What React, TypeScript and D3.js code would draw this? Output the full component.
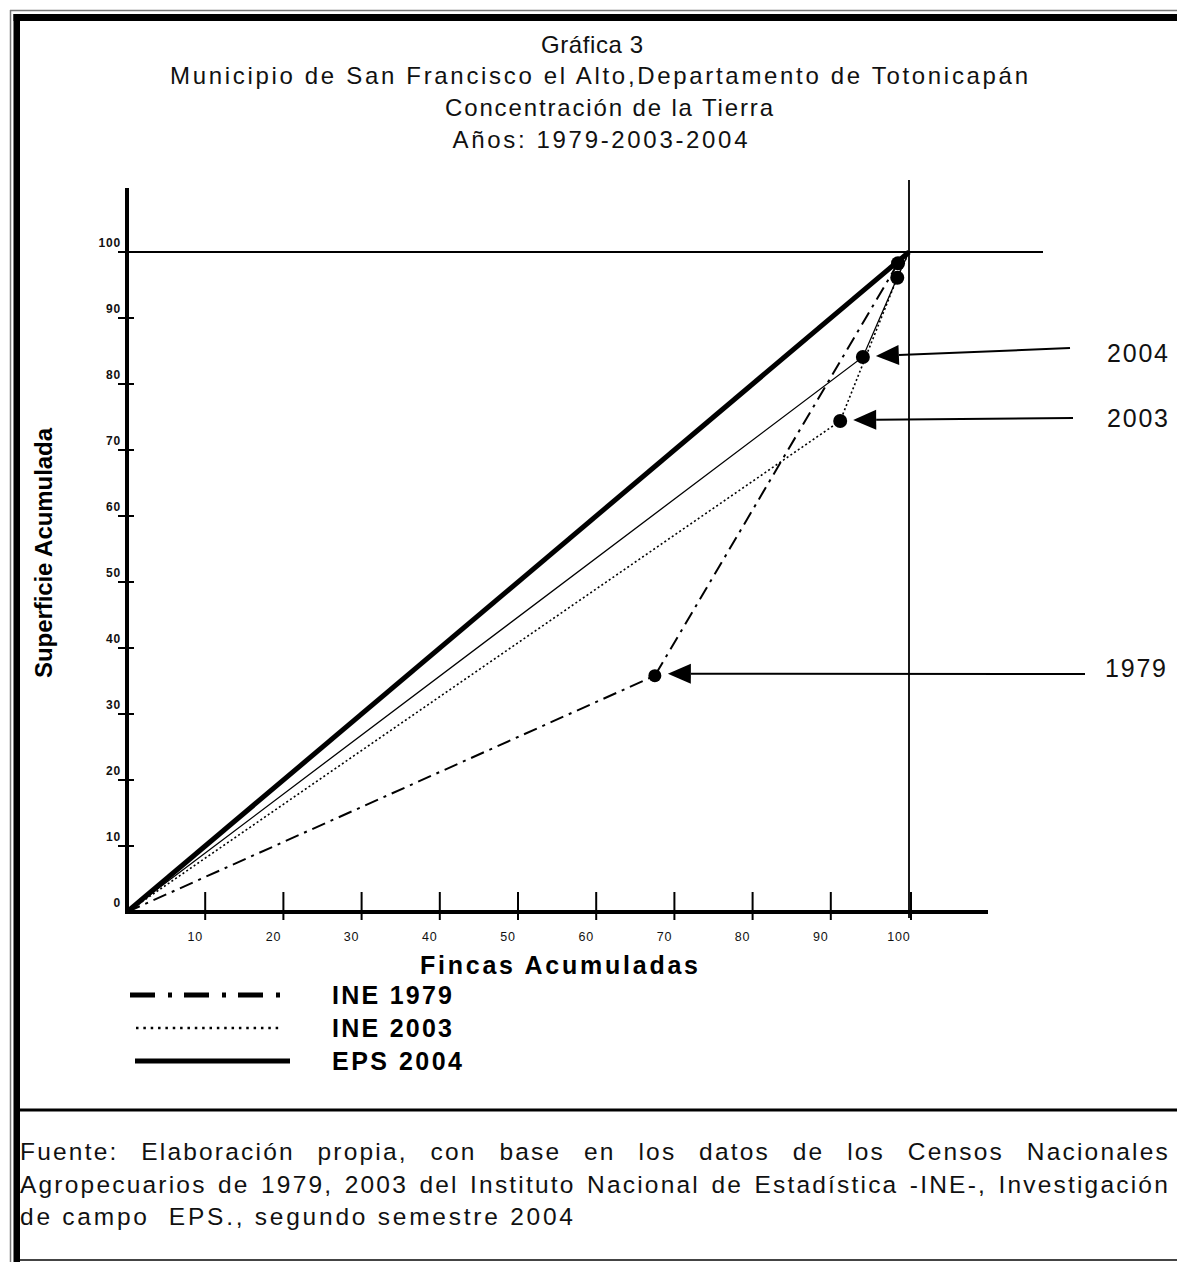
import React, { useEffect, useRef } from "react";
import * as d3 from "d3";

const W = 1177;
const H = 1262;

const titleLines = [
  "Gráfica 3",
  "Municipio de San Francisco el Alto,Departamento de Totonicapán",
  "Concentración de la Tierra",
  "Años: 1979-2003-2004",
];
const yTicks = [0, 10, 20, 30, 40, 50, 60, 70, 80, 90, 100];
const xTicks = [10, 20, 30, 40, 50, 60, 70, 80, 90, 100];

// Lorenz curve points (fincas acumuladas %, superficie acumulada %)
const fincas1979 = [0, 67.5, 98.6, 100];
const superficie1979 = [0, 35.8, 98.3, 100];
const fincas2003 = [0, 91.2, 98.5, 100];
const superficie2003 = [0, 74.4, 96.1, 100];
const fincas2004 = [0, 94.1, 98.5, 100];
const superficie2004 = [0, 84.1, 96.1, 100];
const equidadX = [0, 100];
const equidadY = [0, 100];

const annotations = [
  { label: "2004", x: 94.1, y: 84.1 },
  { label: "2003", x: 91.2, y: 74.4 },
  { label: "1979", x: 67.5, y: 35.8 },
];

const legendItems = ["INE 1979", "INE 2003", "EPS 2004"];

const footerLines = [
  "Fuente:  Elaboración propia, con base en los datos de los Censos Nacionales",
  "Agropecuarios de 1979, 2003 del Instituto Nacional de Estadística -INE-, Investigación",
  "de campo  EPS., segundo semestre 2004",
];

const FONT = "'Liberation Sans', Arial, sans-serif";

export default function App() {
  const ref = useRef<SVGSVGElement>(null);

  useEffect(() => {
    const svg = d3.select(ref.current);
    svg.selectAll("*").remove();

    svg.append("rect").attr("width", W).attr("height", H).attr("fill", "#fff");

    // frame
    svg.append("line").attr("x1", 10.5).attr("x2", 10.5).attr("y1", 10).attr("y2", H).attr("stroke", "#777").attr("stroke-width", 1.5);
    svg.append("line").attr("x1", 10).attr("x2", W).attr("y1", 10.5).attr("y2", 10.5).attr("stroke", "#777").attr("stroke-width", 1.5);
    svg.append("rect").attr("x", 13.5).attr("y", 14).attr("width", 6.5).attr("height", H - 14).attr("fill", "#000");
    svg.append("rect").attr("x", 13.5).attr("y", 14).attr("width", W - 13.5).attr("height", 7).attr("fill", "#000");
    svg.append("line").attr("x1", 20).attr("x2", W).attr("y1", 1260).attr("y2", 1260).attr("stroke", "#444").attr("stroke-width", 2);
    svg.append("line").attr("x1", 20).attr("x2", W).attr("y1", 1110).attr("y2", 1110).attr("stroke", "#000").attr("stroke-width", 3);

    // titles
    const titleSpec = [
      { cx: 592, y: 53, len: 102 },
      { cx: 599, y: 84, len: 858 },
      { cx: 609, y: 116, len: 328 },
      { cx: 600, y: 148, len: 295 },
    ];
    titleLines.forEach((t, i) => {
      svg.append("text")
        .attr("x", titleSpec[i].cx - titleSpec[i].len / 2)
        .attr("y", titleSpec[i].y)
        .attr("textLength", titleSpec[i].len)
        .attr("lengthAdjust", "spacing")
        .attr("font-family", FONT)
        .attr("font-size", 24)
        .attr("fill", "#111")
        .text(t);
    });

    const x = d3.scaleLinear().domain([0, 100]).range([127, 909]);
    const y = d3.scaleLinear().domain([0, 100]).range([912, 252]);

    // reference lines at 100%
    svg.append("line").attr("x1", 118).attr("x2", 1043).attr("y1", y(100)).attr("y2", y(100)).attr("stroke", "#000").attr("stroke-width", 1.8);
    svg.append("line").attr("x1", x(100)).attr("x2", x(100)).attr("y1", 180).attr("y2", 918).attr("stroke", "#000").attr("stroke-width", 1.8);

    // axes
    svg.append("line").attr("x1", x(0)).attr("x2", x(0)).attr("y1", 188).attr("y2", 914).attr("stroke", "#000").attr("stroke-width", 4);
    svg.append("line").attr("x1", x(0) - 2).attr("x2", 988).attr("y1", y(0)).attr("y2", y(0)).attr("stroke", "#000").attr("stroke-width", 4);

    yTicks.forEach((v) => {
      if (v > 0) {
        svg.append("line").attr("x1", x(0) - 9).attr("x2", x(0) + 7).attr("y1", y(v)).attr("y2", y(v)).attr("stroke", "#000").attr("stroke-width", 2);
      }
      svg.append("text")
        .attr("x", 121)
        .attr("y", y(v) - 5)
        .attr("text-anchor", "end")
        .attr("font-family", FONT)
        .attr("font-weight", "bold")
        .attr("font-size", 12)
        .attr("letter-spacing", 0.8)
        .attr("fill", "#111")
        .text(String(v));
    });
    xTicks.forEach((v) => {
      svg.append("line").attr("x1", x(v) + (v === 100 ? 2 : 0)).attr("x2", x(v) + (v === 100 ? 2 : 0)).attr("y1", 892).attr("y2", 920).attr("stroke", "#000").attr("stroke-width", 2);
      svg.append("text")
        .attr("x", x(v) - 10)
        .attr("y", 941)
        .attr("text-anchor", "middle")
        .attr("font-family", FONT)
        .attr("font-size", 12.5)
        .attr("letter-spacing", 0.8)
        .attr("fill", "#111")
        .text(String(v));
    });

    // axis titles
    svg.append("text")
      .attr("transform", `translate(52,553) rotate(-90)`)
      .attr("x", -125)
      .attr("textLength", 250)
      .attr("lengthAdjust", "spacing")
      .attr("font-family", FONT)
      .attr("font-weight", "bold")
      .attr("font-size", 24)
      .attr("fill", "#000")
      .text("Superficie Acumulada");
    svg.append("text")
      .attr("x", 420)
      .attr("y", 974)
      .attr("textLength", 278)
      .attr("lengthAdjust", "spacing")
      .attr("font-family", FONT)
      .attr("font-weight", "bold")
      .attr("font-size", 25)
      .attr("fill", "#000")
      .text("Fincas Acumuladas");

    const line = d3.line<[number, number]>().x((d) => x(d[0])).y((d) => y(d[1]));
    const zip = (a: number[], b: number[]) => a.map((v, i) => [v, b[i]] as [number, number]);

    // equality line
    svg.append("path").attr("d", line(zip(equidadX, equidadY))).attr("fill", "none").attr("stroke", "#000").attr("stroke-width", 5);
    // 2004 thin solid
    svg.append("path").attr("d", line(zip(fincas2004, superficie2004))).attr("fill", "none").attr("stroke", "#000").attr("stroke-width", 1.3);
    // 2003 dotted
    svg.append("path").attr("d", line(zip(fincas2003, superficie2003))).attr("fill", "none").attr("stroke", "#000").attr("stroke-width", 1.6).attr("stroke-dasharray", "2,2.5");
    // 1979 dash-dot
    svg.append("path").attr("d", line(zip(fincas1979, superficie1979))).attr("fill", "none").attr("stroke", "#000").attr("stroke-width", 2).attr("stroke-dasharray", "14,6,3,6");

    // markers
    const dots: [number, number][] = [
      [fincas1979[1], superficie1979[1]],
      [fincas2003[1], superficie2003[1]],
      [fincas2004[1], superficie2004[1]],
      [fincas1979[2], superficie1979[2]],
      [fincas2003[2], superficie2003[2]],
    ];
    dots.forEach((d, i) => {
      svg.append("circle").attr("cx", x(d[0])).attr("cy", y(d[1])).attr("r", i === 0 ? 6.5 : 7).attr("fill", "#000");
    });

    // annotation arrows
    const tails = [
      { tx: 1070, ty: 348, lx: 1107, ly: 362 },
      { tx: 1073, ty: 418, lx: 1107, ly: 427 },
      { tx: 1085, ty: 674, lx: 1105, ly: 677 },
    ];
    annotations.forEach((a, i) => {
      const tipX = x(a.x) + 13;
      const tipY = y(a.y) - (i === 2 ? 2 : 1);
      const t = tails[i];
      const ang = Math.atan2(t.ty - tipY, t.tx - tipX);
      const L = 23, hw = 10;
      const bx = tipX + L * Math.cos(ang), by = tipY + L * Math.sin(ang);
      svg.append("line").attr("x1", bx).attr("y1", by).attr("x2", t.tx).attr("y2", t.ty).attr("stroke", "#000").attr("stroke-width", 2);
      const px = -Math.sin(ang) * hw, py = Math.cos(ang) * hw;
      svg.append("path")
        .attr("d", `M${tipX},${tipY}L${bx + px},${by + py}L${bx - px},${by - py}Z`)
        .attr("fill", "#000");
      svg.append("text")
        .attr("x", t.lx)
        .attr("y", t.ly)
        .attr("textLength", 61)
        .attr("lengthAdjust", "spacing")
        .attr("font-family", FONT)
        .attr("font-size", 25)
        .attr("fill", "#111")
        .text(a.label);
    });

    // legend
    const legY = [995, 1028, 1061];
    svg.append("line").attr("x1", 130).attr("x2", 281).attr("y1", legY[0]).attr("y2", legY[0]).attr("stroke", "#000").attr("stroke-width", 5).attr("stroke-dasharray", "25,13,4,12");
    svg.append("line").attr("x1", 136).attr("x2", 283).attr("y1", legY[1]).attr("y2", legY[1]).attr("stroke", "#000").attr("stroke-width", 2.5).attr("stroke-dasharray", "2.5,4.85");
    svg.append("line").attr("x1", 135).attr("x2", 290).attr("y1", legY[2]).attr("y2", legY[2]).attr("stroke", "#000").attr("stroke-width", 5);
    const legLens = [120, 120, 130];
    legendItems.forEach((t, i) => {
      svg.append("text")
        .attr("x", 332)
        .attr("y", legY[i] + 9)
        .attr("textLength", legLens[i])
        .attr("lengthAdjust", "spacing")
        .attr("font-family", FONT)
        .attr("font-weight", "bold")
        .attr("font-size", 25)
        .attr("fill", "#000")
        .text(t);
    });

    // footer (justified)
    const fy = [1160, 1193, 1225];
    const fs = 24.5;
    const ls = 2.2;
    footerLines.forEach((ln, i) => {
      if (i === footerLines.length - 1) {
        svg.append("text")
          .attr("x", 20).attr("y", fy[i])
          .attr("textLength", 553)
          .attr("lengthAdjust", "spacing")
          .attr("font-family", FONT).attr("font-size", fs)
          .attr("fill", "#111").attr("xml:space", "preserve")
          .style("white-space", "pre")
          .text(ln);
        return;
      }
      const words = ln.split(/\s+/);
      const nodes = words.map((w) =>
        svg.append("text")
          .attr("y", fy[i])
          .attr("font-family", FONT).attr("font-size", fs).attr("letter-spacing", ls)
          .attr("fill", "#111")
          .text(w)
      );
      const widths = nodes.map((n) => (n.node() as SVGTextElement).getBBox().width);
      const total = widths.reduce((s, v) => s + v, 0);
      const left = 20, right = 1170;
      const gap = (right - left - total) / (words.length - 1);
      let cx = left;
      nodes.forEach((n, k) => {
        n.attr("x", cx);
        cx += widths[k] + gap;
      });
    });
  }, []);

  return (
    <svg
      ref={ref}
      width={W}
      height={H}
      style={{ position: "absolute", left: 0, top: 0, display: "block" }}
    />
  );
}
